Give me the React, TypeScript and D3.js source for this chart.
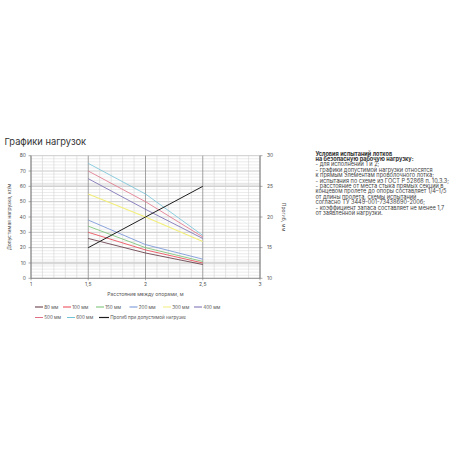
import React from "react";
import * as d3 from "d3";

// ---- data ----
const distances = [1.5, 2, 2.5];
const seriesNames = ["80 мм", "100 мм", "150 мм", "200 мм", "300 мм", "400 мм", "500 мм", "600 мм"];
const load80 = [26, 16.5, 9];
const load100 = [30, 18.5, 10];
const load150 = [34, 20, 11];
const load200 = [38, 22, 12.5];
const load300 = [55, 40, 24];
const load400 = [65, 45, 26];
const load500 = [70, 50, 27];
const load600 = [75, 55, 28];
const deflection = [15, 20, 25];
const deflectionName = "Прогиб при допустимой нагрузке";
const seriesColors = ["#5a2f3a", "#e8404c", "#74c06e", "#6f8fd6", "#f2ee7a", "#7468b0", "#e07085", "#72c2d8"];
const deflectionColor = "#1e1e1e";
const xTicks = [1, 1.5, 2, 2.5, 3];
const xTickLabels = ["1", "1,5", "2", "2,5", "3"];
const yLeftTicks = [0, 10, 20, 30, 40, 50, 60, 70, 80];
const yRightTicks = [10, 15, 20, 25, 30];
const shadedBands = [[9, 11], [60, 62]];
const title = "Графики нагрузок";
const xTitle = "Расстояние между опорами, м";
const yLeftTitle = "Допустимая нагрузка, кг/м";
const yRightTitle = "Прогиб, мм";
const noteBold = ["Условия испытаний лотков", "на безопасную рабочую нагрузку:"];
const noteLines = [
  "- для исполнений 1 и 2;",
  "- графики допустимой нагрузки относятся",
  "к прямым элементам проволочного лотка;",
  "- испытания по схеме из ГОСТ Р 52868 п. 10.3.3;",
  "- расстояние от места стыка прямых секций в",
  "концевом пролете до опоры составляет 1/4–1/5",
  "от длины пролета, схемы испытаний",
  "согласно ТУ 3449-001-73438690-2006;",
  "- коэффициент запаса составляет не менее 1,7",
  "от заявленной нагрузки.",
];

const allLoads = [load80, load100, load150, load200, load300, load400, load500, load600];

export default function App() {
  const W = 458, H = 458;
  const left = 31, right = 260, top = 155.7, bottom = 278.3;
  const x = d3.scaleLinear().domain([1, 3]).range([left, right]);
  const yL = d3.scaleLinear().domain([0, 80]).range([bottom, top]);
  const yR = d3.scaleLinear().domain([10, 30]).range([bottom, top]);
  const font = "Inter, 'Noto Sans', sans-serif";
  const tickFont = 5;

  const lineL = d3.line<[number, number]>().x((d) => x(d[0])).y((d) => yL(d[1]));
  const lineR = d3.line<[number, number]>().x((d) => x(d[0])).y((d) => yR(d[1]));

  const minorX = d3.range(1, 3.0001, 0.1);
  const minorY = d3.range(0, 80.0001, 2);

  const legendRow1X = [35, 63, 96, 129.5, 163, 194];
  const legendRow2X = [35, 67, 99];
  const legendItems = [
    ...seriesNames.slice(0, 6).map((n, i) => ({ name: n, color: seriesColors[i], x: legendRow1X[i], y: 307, len: 8, w: 1 })),
    ...seriesNames.slice(6).map((n, i) => ({ name: n, color: seriesColors[6 + i], x: legendRow2X[i], y: 317.5, len: 8, w: 1 })),
    { name: deflectionName, color: deflectionColor, x: legendRow2X[2], y: 317.5, len: 10, w: 1.2 },
  ];

  return (
    <svg width={W} height={H} style={{ position: "absolute", left: 0, top: 0, background: "#fff" }} fontFamily={font}>
      <text x={4.5} y={145} fontSize={9.3} fill="#333">{title}</text>

      {shadedBands.map((b, i) => (
        <rect key={"b" + i} x={left} width={right - left} y={yL(b[1])} height={yL(b[0]) - yL(b[1])} fill="#ececec" />
      ))}
      {minorY.map((v, i) => (
        <line key={"my" + i} x1={left} x2={right} y1={yL(v)} y2={yL(v)} stroke={v % 10 === 0 ? "#a8a8a8" : "#dedede"} strokeWidth={0.6} />
      ))}
      {minorX.map((v, i) => {
        const major = Math.abs(v * 2 - Math.round(v * 2)) < 1e-6;
        return <line key={"mx" + i} x1={x(v)} x2={x(v)} y1={top} y2={bottom} stroke={major ? "#8c8c8c" : "#d4d4d4"} strokeWidth={major ? 0.8 : 0.6} />;
      })}

      {/* axes */}
      <line x1={left} x2={left} y1={top} y2={bottom} stroke="#777" strokeWidth={0.7} />
      <line x1={right} x2={right} y1={top} y2={bottom} stroke="#777" strokeWidth={0.7} />
      <line x1={left} x2={right} y1={bottom} y2={bottom} stroke="#777" strokeWidth={0.7} />

      {yLeftTicks.map((v) => (
        <g key={"yl" + v}>
          <line x1={left - 2.5} x2={left} y1={yL(v)} y2={yL(v)} stroke="#777" strokeWidth={0.6} />
          <text x={left - 5} y={yL(v)} dy="0.35em" textAnchor="end" fontSize={tickFont} fill="#555">{v}</text>
        </g>
      ))}
      {yRightTicks.map((v) => (
        <g key={"yr" + v}>
          <line x1={right} x2={right + 2.5} y1={yR(v)} y2={yR(v)} stroke="#777" strokeWidth={0.6} />
          <text x={right + 7} y={yR(v)} dy="0.35em" textAnchor="start" fontSize={tickFont} fill="#555">{v}</text>
        </g>
      ))}
      {xTicks.map((v, i) => (
        <g key={"xt" + v}>
          <line x1={x(v)} x2={x(v)} y1={bottom} y2={bottom + 2} stroke="#777" strokeWidth={0.6} />
          <text x={x(v)} y={bottom + 6} dy="0.35em" textAnchor="middle" fontSize={tickFont} fill="#555">{xTickLabels[i]}</text>
        </g>
      ))}

      <text x={(left + right) / 2} y={296} textAnchor="middle" fontSize={5} fill="#555">{xTitle}</text>
      <text transform={`translate(11,${(top + bottom) / 2}) rotate(-90)`} textAnchor="middle" fontSize={5} fill="#555">{yLeftTitle}</text>
      <text transform={`translate(282,${(top + bottom) / 2}) rotate(90)`} textAnchor="middle" fontSize={5} fill="#555">{yRightTitle}</text>

      {/* series */}
      {allLoads.map((vals, i) => (
        <path key={"s" + i} d={lineL(distances.map((d, j) => [d, vals[j]]) as [number, number][]) || ""} fill="none" stroke={seriesColors[i]} strokeWidth={i === 4 ? 1.1 : 0.8} />
      ))}
      <path d={lineR(distances.map((d, j) => [d, deflection[j]]) as [number, number][]) || ""} fill="none" stroke={deflectionColor} strokeWidth={1} />

      {/* legend */}
      {legendItems.map((it, i) => (
        <g key={"lg" + i}>
          <line x1={it.x} x2={it.x + it.len} y1={it.y} y2={it.y} stroke={it.color} strokeWidth={it.w} />
          <text x={it.x + it.len + 1.2} y={it.y} dy="0.35em" fontSize={4.6} fill="#555">{it.name}</text>
        </g>
      ))}

      {/* notes */}
      {noteBold.map((t, i) => (
        <text key={"nb" + i} x={315.5} y={155.5 + i * 5.4} fontSize={5.6} fontWeight={700} fill="#333">{t}</text>
      ))}
      {noteLines.map((t, i) => (
        <text key={"nl" + i} x={315.5} y={155.5 + (i + 2) * 5.4} fontSize={5.6} fill="#444">{t}</text>
      ))}
    </svg>
  );
}
